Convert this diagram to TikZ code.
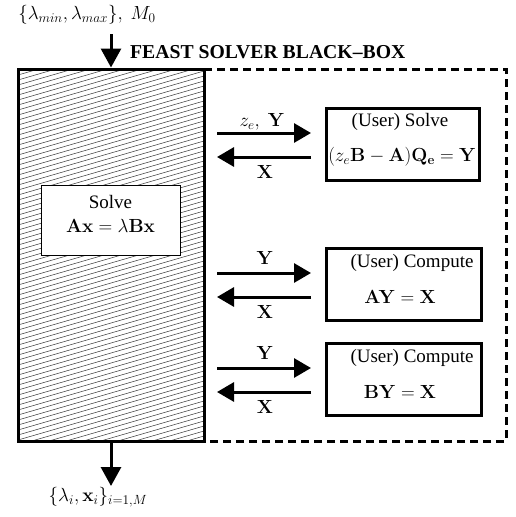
\documentclass[tikz,border=0pt]{standalone}
\usepackage{fix-cm}
\usepackage[no-math]{fontspec}
\setmainfont{Liberation Serif}
\usetikzlibrary{arrows.meta}
\begin{document}
\begin{tikzpicture}[x=1pt,y=-1pt,
  txt/.style={inner sep=0pt,font=\fontsize{19}{23}\selectfont},
  bigarrow/.style={line width=3pt,-{Triangle[length=19pt,width=20pt]}},
  sidearrow/.style={line width=3pt,-{Triangle[length=17pt,width=19pt]}},
  userbox/.style={draw,line width=3pt,minimum width=153pt,minimum height=72pt,inner sep=0pt},
  hatchline/.style={black!75,line width=0.55pt}]
\useasboundingbox (0,0) rectangle (515,517);

% dashed outer box
\draw[line width=3pt,dash pattern=on 8pt off 5pt] (204,69) -- (506,69) -- (506,441) -- (204,441);

% hatched black box
\begin{scope}
  \clip (18,69) rectangle (204,441);
  \foreach \y in {60,65,...,520} { \draw[hatchline] (18,\y) -- (204,\y-54); }
\end{scope}
\node[draw,line width=3pt,minimum width=186pt,minimum height=372pt,inner sep=0pt] (bb) at (111,255) {};

% inner solve box
\node[draw,fill=white,line width=0.8pt,minimum width=139pt,minimum height=70pt,inner sep=0pt] (solve) at (110.5,220) {};
\node[txt] (solvet) at (110.5,202) {Solve};
\node[txt] (solvem) at (110.5,226) {$\mathbf{Ax}=\lambda\mathbf{Bx}$};

% title
\node[txt,anchor=west,font=\fontsize{19.7}{23}\selectfont\bfseries] (title) at (130,52) {FEAST SOLVER BLACK--BOX};

% input / output
\node[txt] (in) at (87,15) {$\{\lambda_{min},\lambda_{max}\},\ M_0$};
\coordinate (inA) at (111,34);
\draw[bigarrow] (inA) -- (bb.north);
\node[txt] (out) at (98,497) {$\{\lambda_i,\mathbf{x}_i\}_{i=1,M}$};
\coordinate (outB) at (111,486);
\draw[bigarrow] (bb.south) -- (outB);

% user boxes
\node[userbox] (u1) at (402.5,144) {};
\node[txt] at (400,122) {(User) Solve};
\node[txt] at (402,157) {$(z_e\mathbf{B}-\mathbf{A})\mathbf{Q_e}=\mathbf{Y}$};

\node[userbox,minimum width=155pt] (u2) at (403.5,284) {};
\node[txt] at (412,263) {(User) Compute};
\node[txt] at (400,297) {$\mathbf{AY}=\mathbf{X}$};

\node[userbox,minimum width=155pt] (u3) at (403.5,379) {};
\node[txt] at (412,358) {(User) Compute};
\node[txt] at (400,392) {$\mathbf{BY}=\mathbf{X}$};

% arrows between
\foreach \n/\ya/\yb in {1/133/157, 2/273/297, 3/368/392} {
  \coordinate (a\n s) at (217,\ya);
  \coordinate (a\n e) at (311,\ya);
  \coordinate (b\n s) at (311,\yb);
  \coordinate (b\n e) at (217,\yb);
  \draw[sidearrow] (a\n s) -- (a\n e);
  \draw[sidearrow] (b\n s) -- (b\n e);
}
\node[txt] at (262,122) {$z_e,\ \mathbf{Y}$};
\node[txt] at (265,172) {$\mathbf{X}$};
\node[txt] at (265,258) {$\mathbf{Y}$};
\node[txt] at (265,312) {$\mathbf{X}$};
\node[txt] at (265,353) {$\mathbf{Y}$};
\node[txt] at (265,407) {$\mathbf{X}$};
\end{tikzpicture}
\end{document}
